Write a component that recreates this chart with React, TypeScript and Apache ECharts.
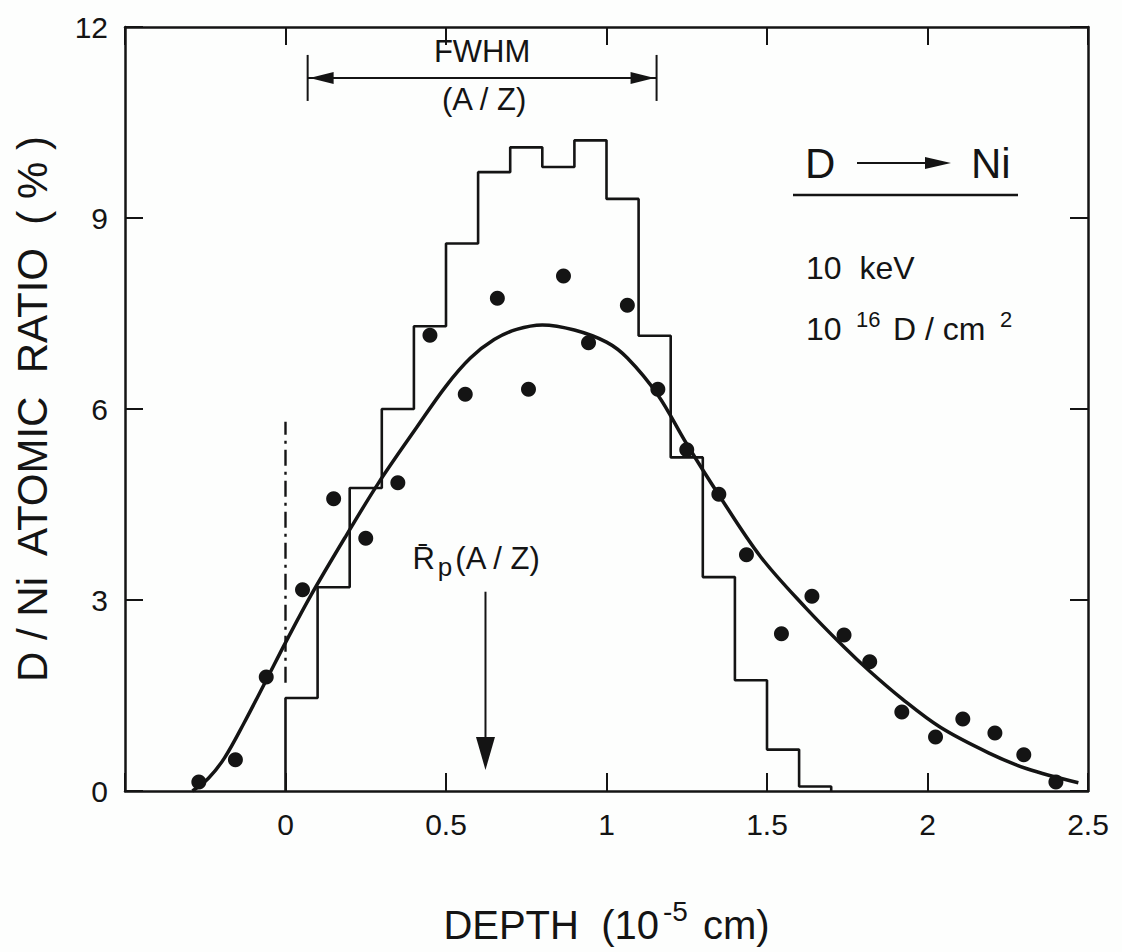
import React, { useEffect, useRef } from "react";
import * as echarts from "echarts";

// Implanted deuterium profile in nickel: measured points, fitted curve, simulated histogram.
const FONT = '"Liberation Sans", Arial, sans-serif';
const INK = "#141414";

// axes
const depthRange = [-0.5, 2.5];
const depthStep = 0.5;
const ratioRange = [0, 12];
const ratioStep = 3;

// measured D/Ni ratios (%) vs depth (1e-5 cm)
const dotDepth = [-0.27, -0.156, -0.06, 0.053, 0.15, 0.25, 0.35, 0.45, 0.56, 0.66, 0.757, 0.866, 0.944, 1.065, 1.16, 1.25, 1.35, 1.436, 1.545, 1.64, 1.74, 1.82, 1.92, 2.025, 2.11, 2.21, 2.3, 2.4];
const dotRatio = [0.14, 0.49, 1.79, 3.16, 4.59, 3.97, 4.84, 7.16, 6.23, 7.74, 6.31, 8.09, 7.04, 7.63, 6.31, 5.36, 4.66, 3.71, 2.47, 3.06, 2.45, 2.03, 1.24, 0.85, 1.13, 0.91, 0.57, 0.14];

// fitted profile
const fitDepth = [-0.29, -0.24, -0.19, -0.13, -0.06, 0, 0.08, 0.19, 0.29, 0.41, 0.5, 0.576, 0.65, 0.72, 0.8, 0.9, 1.0, 1.065, 1.16, 1.25, 1.35, 1.48, 1.62, 1.74, 1.82, 1.92, 2.04, 2.19, 2.31, 2.47];
const fitRatio = [0, 0.2, 0.52, 1.06, 1.74, 2.33, 3.08, 4.02, 4.84, 5.72, 6.36, 6.8, 7.09, 7.25, 7.32, 7.24, 7.05, 6.8, 6.22, 5.45, 4.65, 3.68, 2.88, 2.26, 1.88, 1.45, 1.0, 0.6, 0.35, 0.13];

// simulated (A/Z) histogram: bin edges and bin heights
const binEdges = [0, 0.1, 0.2, 0.3, 0.4, 0.5, 0.6, 0.7, 0.8, 0.9, 1.0, 1.1, 1.2, 1.3, 1.4, 1.5, 1.6, 1.7];
const binRatio = [1.46, 3.2, 4.76, 6.0, 7.3, 8.6, 9.72, 10.11, 9.8, 10.22, 9.3, 7.15, 5.24, 3.36, 1.74, 0.65, 0.07];

// surface marker (dash-dot) at depth 0
const surfaceDepth = 0;
const surfaceSpan = [1.7, 5.8];

// FWHM bracket and projected range arrow
const fwhmSpan = [0.069, 1.156];
const fwhmLevel = 11.2;
const rpDepth = 0.623;
const rpArrow = [3.13, 0.33];

function histogramOutline(): number[][] {
  const pts: number[][] = [[binEdges[0], 0]];
  binRatio.forEach((v, i) => {
    pts.push([binEdges[i], v]);
    pts.push([binEdges[i + 1], v]);
  });
  pts.push([binEdges[binEdges.length - 1], 0]);
  return pts;
}

export default function App() {
  const ref = useRef<HTMLDivElement>(null);

  useEffect(() => {
    if (!ref.current) return;
    const chart = echarts.init(ref.current, null, { renderer: "svg" });

    const axisLine = { show: true, onZero: false, lineStyle: { color: INK, width: 2.5 } };
    const axisTick = { show: true, inside: true, length: 18, lineStyle: { color: INK, width: 2 } };
    const labelStyle = { fontSize: 30, color: INK, fontFamily: FONT };

    const renderAnnotations = (_params: any, api: any) => {
      const [fx0, fy] = api.coord([fwhmSpan[0], fwhmLevel]);
      const [fx1] = api.coord([fwhmSpan[1], fwhmLevel]);
      const [ax, ayTop] = api.coord([rpDepth, rpArrow[0]]);
      const [, ayTip] = api.coord([rpDepth, rpArrow[1]]);
      const stroke = { stroke: INK, lineWidth: 2, fill: "none" };
      const cap = 23;
      const headLen = 24;
      const headHalf = 6;
      const midX = (fx0 + fx1) / 2;
      return {
        type: "group",
        children: [
          { type: "line", shape: { x1: fx0, y1: fy, x2: fx1, y2: fy }, style: stroke },
          { type: "line", shape: { x1: fx0, y1: fy - cap, x2: fx0, y2: fy + cap }, style: stroke },
          { type: "line", shape: { x1: fx1, y1: fy - cap, x2: fx1, y2: fy + cap }, style: stroke },
          { type: "polygon", shape: { points: [[fx0 + 2, fy], [fx0 + 2 + headLen, fy - headHalf], [fx0 + 2 + headLen, fy + headHalf]] }, style: { fill: INK } },
          { type: "polygon", shape: { points: [[fx1 - 2, fy], [fx1 - 2 - headLen, fy - headHalf], [fx1 - 2 - headLen, fy + headHalf]] }, style: { fill: INK } },
          { type: "text", x: midX, y: fy - 26, style: { text: "FWHM", fontSize: 31, fontFamily: FONT, fill: INK, align: "center", verticalAlign: "middle" } },
          { type: "text", x: midX + 2, y: fy + 22, style: { text: "(A / Z)", fontSize: 31, fontFamily: FONT, fill: INK, align: "center", verticalAlign: "middle" } },
          { type: "line", shape: { x1: ax, y1: ayTop, x2: ax, y2: ayTip - 30 }, style: stroke },
          { type: "polygon", shape: { points: [[ax, ayTip], [ax - 9.5, ayTip - 33], [ax + 9.5, ayTip - 33]] }, style: { fill: INK } },
          {
            type: "text",
            x: ax - 73,
            y: ayTop - 30,
            style: {
              text: "{r|R\u0304}{p|p}{r|(A / Z)}",
              fontFamily: FONT,
              fill: INK,
              align: "left",
              verticalAlign: "middle",
              rich: {
                r: { fontSize: 31, fontFamily: FONT, fill: INK, verticalAlign: "bottom", padding: [0, 0, 6, 0] },
                p: { fontSize: 26, fontFamily: FONT, fill: INK, verticalAlign: "bottom", padding: [0, 3, 0, 3] },
              },
            },
          },
        ],
      };
    };

    const textEl = (text: string, x: number, y: number, size: number) => ({
      type: "text",
      x,
      y,
      style: { text, fontSize: size, fontFamily: FONT, fill: INK, align: "left", verticalAlign: "bottom" },
    });

    chart.setOption({
      animation: false,
      backgroundColor: "#fdfefd",
      grid: { left: 125, right: 34, top: 27, bottom: 161, containLabel: false },
      xAxis: [
        {
          type: "value",
          min: depthRange[0],
          max: depthRange[1],
          interval: depthStep,
          position: "bottom",
          axisLine,
          axisTick,
          splitLine: { show: false },
          axisLabel: {
            ...labelStyle,
            margin: 18,
            formatter: (v: number) => (v === depthRange[0] ? "" : String(v)),
          },
          name: "{a|DEPTH  (10}{s|-5}{a| cm)}",
          nameLocation: "middle",
          nameGap: 106,
          nameTextStyle: {
            fontFamily: FONT,
            color: INK,
            rich: {
              a: { fontSize: 40, fontFamily: FONT, color: INK, verticalAlign: "bottom" },
              s: { fontSize: 28, fontFamily: FONT, color: INK, verticalAlign: "bottom", padding: [0, 4, 20, 4] },
            },
          },
        },
        {
          type: "value",
          min: depthRange[0],
          max: depthRange[1],
          interval: depthStep,
          position: "top",
          axisLine,
          axisTick,
          axisLabel: { show: false },
          splitLine: { show: false },
        },
      ],
      yAxis: [
        {
          type: "value",
          min: ratioRange[0],
          max: ratioRange[1],
          interval: ratioStep,
          position: "left",
          axisLine,
          axisTick,
          splitLine: { show: false },
          axisLabel: { ...labelStyle, margin: 17 },
          name: "D / Ni  ATOMIC  RATIO  ( % )",
          nameLocation: "middle",
          nameRotate: 90,
          nameGap: 72,
          nameTextStyle: { fontSize: 42, fontFamily: FONT, color: INK },
        },
        {
          type: "value",
          min: ratioRange[0],
          max: ratioRange[1],
          interval: ratioStep,
          position: "right",
          axisLine,
          axisTick,
          axisLabel: { show: false },
          splitLine: { show: false },
        },
      ],
      series: [
        {
          name: "histogram",
          type: "line",
          data: histogramOutline(),
          symbol: "none",
          lineStyle: { color: INK, width: 2.6 },
          z: 2,
        },
        {
          name: "fit",
          type: "line",
          data: fitDepth.map((d, i) => [d, fitRatio[i]]),
          smooth: 0.35,
          symbol: "none",
          lineStyle: { color: INK, width: 3.5 },
          z: 3,
        },
        {
          name: "measured",
          type: "scatter",
          data: dotDepth.map((d, i) => [d, dotRatio[i]]),
          symbol: "circle",
          symbolSize: 15,
          itemStyle: { color: INK, opacity: 1 },
          z: 4,
        },
        {
          name: "surface",
          type: "line",
          data: surfaceSpan.map((r) => [surfaceDepth, r]),
          symbol: "none",
          lineStyle: { color: INK, width: 2.4, type: [16, 6, 3, 6] },
          z: 2,
        },
        {
          name: "annotations",
          type: "custom",
          data: [[0, 0]],
          renderItem: renderAnnotations,
          clip: false,
          silent: true,
          z: 5,
        },
      ],
      graphic: [
        textEl("D", 805, 184, 42),
        { type: "line", shape: { x1: 857, y1: 163, x2: 928, y2: 163 }, style: { stroke: INK, lineWidth: 2 } },
        { type: "polygon", shape: { points: [[951, 163], [925, 157], [925, 169]] }, style: { fill: INK } },
        textEl("Ni", 971, 184, 42),
        { type: "line", shape: { x1: 793, y1: 195, x2: 1018, y2: 195 }, style: { stroke: INK, lineWidth: 2.5 } },
        textEl("10  keV", 806, 284, 32),
        textEl("10", 806, 345, 32),
        textEl("16", 856, 330, 22),
        textEl("D / cm", 893, 345, 32),
        textEl("2", 1000, 330, 22),
      ],
    });

    return () => chart.dispose();
  }, []);

  return (
    <div
      ref={ref}
      style={{ position: "absolute", left: 0, top: 0, width: 1122, height: 952 }}
    />
  );
}
